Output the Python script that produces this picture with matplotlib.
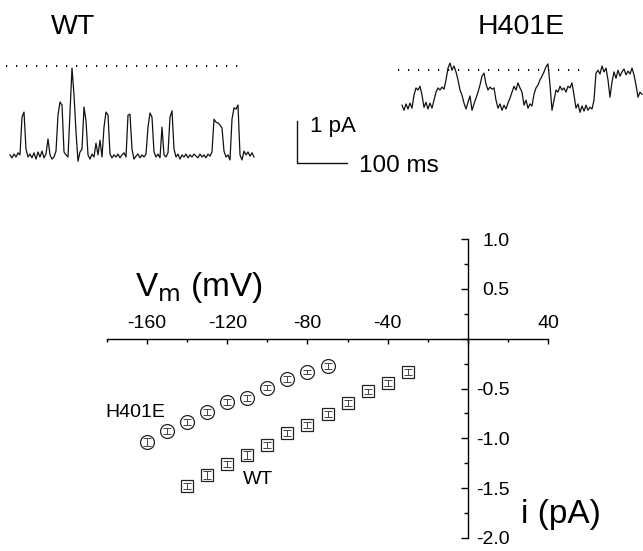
import matplotlib
matplotlib.use('Agg')
import matplotlib.pyplot as plt
import numpy as np
from matplotlib.ticker import FixedLocator, FixedFormatter

plt.rcParams['font.family'] = ['Liberation Sans', 'DejaVu Sans']
plt.rcParams['axes.unicode_minus'] = False

# ── data ────────────────────────────────────────────────────────────────
# single-channel traces, current in pA, sampled every 4 ms
dt_ms = 4.0
wt_trace = [0.05, -0.02, 0.07, 0.00, 0.10, 0.05, 0.95, 1.07, 0.19, 0.00,
            0.07, -0.02, 0.10, -0.05, 0.12, 0.00, 0.14, -0.02, 0.07, 0.43,
            0.05, -0.05, 0.00, 0.14, 1.00, 1.31, 1.24, 0.12, 0.05, 0.00,
            1.07, 2.12, 1.48, 0.60, -0.10, 0.12, 0.19, 1.19, 0.86, 0.05,
            -0.05, 0.07, 0.00, 0.33, 0.05, 0.40, 0.00, 0.71, 1.07, 1.00,
            0.07, -0.02, 0.05, 0.00, 0.07, -0.02, 0.05, 0.10, 0.00, 1.00,
            1.02, 0.19, -0.05, 0.02, 0.07, -0.02, 0.05, 0.00, 0.07, 0.71,
            1.05, 0.95, 0.12, 0.00, 0.07, -0.02, 0.71, 0.05, 0.00, 0.10,
            0.95, 1.10, 0.19, 0.00, 0.07, -0.05, 0.05, 0.00, 0.07, -0.02,
            0.05, 0.00, 0.07, 0.02, -0.02, 0.07, 0.00, 0.05, -0.02, 0.07,
            0.02, 0.12, 0.90, 0.83, 0.81, 0.76, 0.69, 0.14, 0.00, 0.05,
            -0.07, 0.90, 1.17, 1.14, 1.24, 0.05, -0.07, 0.14, 0.05, 0.12,
            0.02, 0.10, 0.00]
h401e_trace = [0.07, -0.05, 0.10, -0.02, 0.12, 0.00, 0.31, 0.48, 0.43, 0.52,
               0.31, 0.02, 0.14, -0.02, 0.12, 0.00, 0.19, 0.38, 0.48, 0.43,
               0.50, 0.45, 0.67, 0.95, 1.07, 0.90, 1.00, 0.86, 0.67, 0.43,
               0.31, 0.12, -0.02, 0.14, 0.29, -0.05, 0.10, 0.24, 0.38, 0.55,
               0.76, 0.83, 0.57, 0.43, 0.50, 0.45, 0.48, 0.19, 0.00, 0.10,
               -0.05, 0.07, -0.02, 0.12, 0.24, 0.38, 0.52, 0.43, 0.60, 0.48,
               0.38, 0.07, 0.19, 0.00, 0.10, 0.05, 0.33, 0.48, 0.55, 0.67,
               0.76, 0.86, 0.98, 1.05, 0.55, -0.05, 0.19, 0.43, 0.38, 0.52,
               0.43, 0.48, 0.38, 0.52, 0.48, 0.60, 0.31, 0.00, 0.10, -0.10,
               0.05, -0.07, 0.07, -0.05, 0.02, -0.02, 0.19, 0.83, 0.90, 0.81,
               1.00, 0.86, 0.95, 0.67, 0.26, 0.62, 0.86, 0.71, 0.90, 0.76,
               0.86, 0.93, 0.79, 0.88, 0.81, 0.95, 0.79, 0.55, 0.26, 0.38,
               0.33]
wt_open_level = 2.17     # dotted reference line, pA
h401e_open_level = 0.90

# i-V relation
h401e_v = [-160, -150, -140, -130, -120, -110, -100, -90, -80, -70]
h401e_i = [-1.04, -0.93, -0.84, -0.74, -0.64, -0.60, -0.49, -0.40, -0.33, -0.27]
h401e_err = [0.04, 0.03, 0.03, 0.03, 0.03, 0.03, 0.03, 0.03, 0.02, 0.03]
wt_v = [-140, -130, -120, -110, -100, -90, -80, -70, -60, -50, -40, -30]
wt_i = [-1.48, -1.37, -1.26, -1.17, -1.07, -0.95, -0.87, -0.76, -0.65, -0.53, -0.44, -0.33]
wt_err = [0.03, 0.04, 0.03, 0.04, 0.03, 0.03, 0.03, 0.03, 0.03, 0.03, 0.03, 0.03]

xticks_major = [-160, -120, -80, -40, 0, 40]
xtick_labels = ['-160', '-120', '-80', '-40', '', '40']
xticks_minor = [-180, -140, -100, -60, -20, 20]
yticks_major = [-2.0, -1.5, -1.0, -0.5, 0.0, 0.5, 1.0]
ytick_labels = ['-2.0', '-1.5', '-1.0', '-0.5', '', '0.5', '1.0']
yticks_minor = [-1.75, -1.25, -0.75, -0.25, 0.25, 0.75]

W, H = 643, 551
fig = plt.figure(figsize=(W / 100, H / 100), dpi=100)
fig.patch.set_facecolor('white')

def px_box(x0, y0, x1, y1):
    # pixel box (top-left origin) -> figure fraction rect
    return [x0 / W, 1 - y1 / H, (x1 - x0) / W, (y1 - y0) / H]

trace_col = '#111111'

# ── WT trace ────────────────────────────────────────────────────────────
ax_wt = fig.add_axes(px_box(0, 50, 270, 170))
t_wt = np.arange(len(wt_trace)) * dt_ms
ax_wt.plot(t_wt, wt_trace, color=trace_col, lw=0.9)
ax_wt.plot([-8, 466], [wt_open_level] * 2, color=trace_col, lw=1.5,
           linestyle=(0, (0.6, 4.2)))
ax_wt.set_xlim(-20, 520)
ax_wt.set_ylim(-0.31, 2.55)
ax_wt.axis('off')

# scale bar
ax_wt.plot([574, 574, 674], [0.86, -0.14, -0.14], color=trace_col, lw=1.0,
           clip_on=False)
ax_wt.text(600, 0.60, '1 pA', fontsize=16, ha='left', va='baseline')
ax_wt.text(698, -0.36, '100 ms', fontsize=17.5, ha='left', va='baseline')

# ── H401E trace ─────────────────────────────────────────────────────────
ax_h = fig.add_axes(px_box(390, 50, 643, 125))
t_h = np.arange(len(h401e_trace)) * dt_ms
ax_h.plot(t_h, h401e_trace, color=trace_col, lw=0.9)
ax_h.plot([-8, 370], [h401e_open_level] * 2, color=trace_col, lw=1.5,
          linestyle=(0, (0.6, 4.2)))
ax_h.set_xlim(-24, 482)
ax_h.set_ylim(-0.40, 1.38)
ax_h.axis('off')

fig.text(73 / W, 1 - 34 / H, 'WT', fontsize=20.5, ha='center', va='baseline')
fig.text(521 / W, 1 - 34 / H, 'H401E', fontsize=20.5, ha='center', va='baseline')

# ── i-V plot ────────────────────────────────────────────────────────────
ax = fig.add_axes(px_box(107, 239, 548, 538))
ax.set_xlim(-180, 40)
ax.set_ylim(-2.0, 1.0)
ax.patch.set_alpha(0)
for s in ['left', 'bottom']:
    ax.spines[s].set_visible(False)
ax.spines['top'].set_position(('data', 0))
ax.spines['right'].set_position(('data', 0))
for s in ['top', 'right']:
    ax.spines[s].set_linewidth(1.0)

ax.xaxis.set_ticks_position('top')
ax.xaxis.set_major_locator(FixedLocator(xticks_major))
ax.xaxis.set_major_formatter(FixedFormatter(xtick_labels))
ax.xaxis.set_minor_locator(FixedLocator(xticks_minor))
ax.tick_params(axis='x', which='major', direction='in', length=3.6, width=1.0,
               pad=5, labelsize=14)
ax.tick_params(axis='x', which='minor', direction='in', length=2.2, width=1.0)

ax.yaxis.set_ticks_position('right')
ax.yaxis.set_major_locator(FixedLocator(yticks_major))
ax.yaxis.set_major_formatter(FixedFormatter(ytick_labels))
ax.yaxis.set_minor_locator(FixedLocator(yticks_minor))
ax.tick_params(axis='y', which='major', direction='in', length=5, width=1.0,
               pad=30, labelsize=14)
ax.tick_params(axis='y', which='minor', direction='in', length=3, width=1.0)
for lab in ax.get_yticklabels():
    lab.set_horizontalalignment('right')

mk_col = '#222222'
ax.plot(h401e_v, h401e_i, 'o', ms=10, mfc='white', mec=mk_col, mew=0.9,
        zorder=3)
ax.errorbar(h401e_v, h401e_i, yerr=h401e_err, fmt='none', ecolor='#444444',
            elinewidth=0.7, capsize=3.2, capthick=0.7, zorder=4)
ax.plot(wt_v, wt_i, 's', ms=8.5, mfc='white', mec=mk_col, mew=0.9, zorder=3)
ax.errorbar(wt_v, wt_i, yerr=wt_err, fmt='none', ecolor='#444444',
            elinewidth=0.7, capsize=3.2, capthick=0.7, zorder=4)

ax.text(-166, 0.51, r'V$_{\rm m}$ (mV)', fontsize=24, ha='left', va='center')
ax.text(26.5, -1.76, 'i (pA)', fontsize=24, ha='left', va='center')
ax.text(-181, -0.74, 'H401E', fontsize=14, ha='left', va='center')
ax.text(-112, -1.41, 'WT', fontsize=14, ha='left', va='center')

fig.savefig('out.png', dpi=100, facecolor='white')
